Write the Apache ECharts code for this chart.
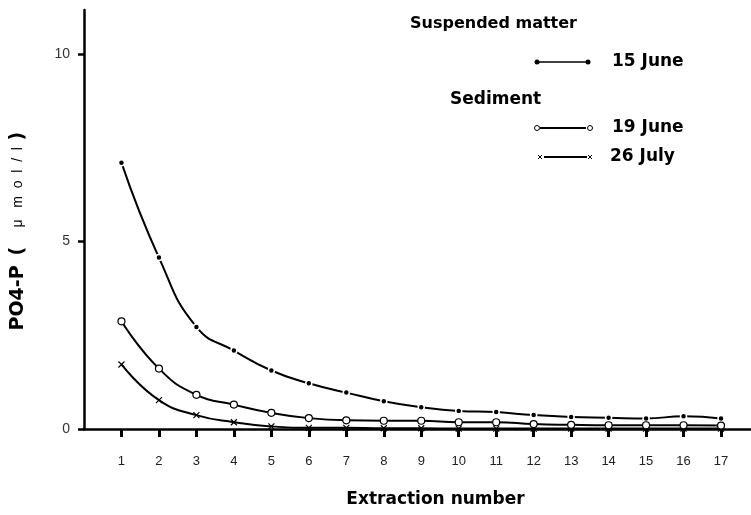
<!DOCTYPE html>
<html><head><meta charset="utf-8">
<script src="https://cdn.jsdelivr.net/npm/echarts@6/dist/echarts.min.js"></script>
<style>html,body{margin:0;padding:0;background:#fff}#c{width:751px;height:515px}</style>
</head><body><div id="c"></div>
<script>
var extraction = [1,2,3,4,5,6,7,8,9,10,11,12,13,14,15,16,17];
var suspended15June = [7.1, 4.57, 2.72, 2.09, 1.56, 1.22, 0.97, 0.74, 0.58, 0.48, 0.45, 0.37, 0.32, 0.30, 0.28, 0.34, 0.28];
var sediment19June = [2.87, 1.61, 0.91, 0.65, 0.43, 0.29, 0.23, 0.22, 0.22, 0.18, 0.18, 0.13, 0.11, 0.10, 0.10, 0.10, 0.09];
var sediment26July = [1.72, 0.77, 0.37, 0.18, 0.07, 0.03, 0.03, 0.02, 0.02, 0.01, 0.01, 0.01, 0.01, 0.01, 0.01, 0.01, 0.01];
var yTicks = [0, 5, 10];

function pairs(vals){ return extraction.map(function(x,i){ return [x, vals[i]]; }); }
var FONT = '"Liberation Sans", Arial, Helvetica, sans-serif';
var BFONT = '"DejaVu Sans", Verdana, sans-serif';
var chart = echarts.init(document.getElementById('c'), null, {renderer:'canvas'});
var lineStyle = {color:'#000', width:2};
var crossPath = 'path://M0,0L10,10M10,0L0,10';

chart.setOption({
  animation:false,
  backgroundColor:'#fff',
  grid:{left:84, right:0, top:10, bottom:86, containLabel:false, outerBoundsMode:'none'},
  xAxis:{
    type:'value', min:0, max:17.8, interval:1,
    axisLine:{show:true, lineStyle:{color:'#000', width:2.5}},
    axisTick:{show:true, inside:false, length:8, lineStyle:{color:'#000', width:3}},
    splitLine:{show:false},
    axisLabel:{show:true, margin:26, fontFamily:FONT, fontSize:13, color:'#222',
      showMaxLabel:false, showMinLabel:false,
      formatter:function(v){ return (v>=1 && v<=17) ? String(v) : ''; }},
    name:'Extraction number', nameLocation:'middle', nameGap:62,
    nameTextStyle:{fontFamily:BFONT, fontWeight:'bold', fontSize:17, color:'#000', padding:[0,0,0,36]}
  },
  yAxis:{
    type:'value', min:0, max:11.17,
    axisLine:{show:true, lineStyle:{color:'#000', width:2.5}},
    axisTick:{show:true, inside:false, length:6, lineStyle:{color:'#000', width:2.5},
      customValues:yTicks},
    axisLabel:{margin:14, fontFamily:FONT, fontSize:14, color:'#333', customValues:yTicks,
      formatter:function(v){ return yTicks.indexOf(v)>=0 ? String(v) : ''; }},
    splitLine:{show:false},
    name:'{b|PO4-P}{p|(}{l|μ   m  o  l  /  l}{q|)}', nameLocation:'middle', nameGap:56, nameRotate:90,
    nameTextStyle:{rich:{
      b:{fontFamily:BFONT, fontWeight:'bold', fontSize:19, color:'#000', width:75, align:'left'},
      p:{fontFamily:BFONT, fontWeight:'bold', fontSize:19, color:'#000', width:28, align:'left'},
      l:{fontFamily:FONT, fontSize:14, color:'#000', width:87, align:'left'},
      q:{fontFamily:BFONT, fontWeight:'bold', fontSize:19, color:'#000', width:32, align:'left'}
    }}
  },
  series:[
    {name:'15 June', type:'line', smooth:0.5, data:pairs(suspended15June),
     symbol:'circle', symbolSize:6, lineStyle:lineStyle,
     itemStyle:{color:'#000', borderColor:'#fff', borderWidth:1.5}, z:3},
    {name:'19 June', type:'line', smooth:0.5, data:pairs(sediment19June),
     symbol:'circle', symbolSize:7, lineStyle:lineStyle,
     itemStyle:{color:'#fff', borderColor:'#000', borderWidth:1.2}, z:3},
    {name:'26 July', type:'line', smooth:0.5, data:pairs(sediment26July),
     symbol:crossPath, symbolSize:6, lineStyle:lineStyle,
     itemStyle:{color:'#000', borderColor:'#000', borderWidth:1.2}, z:2}
  ],
  graphic:[
    {type:'text', left:410, top:16, style:{text:'Suspended matter', font:'bold 16px '+BFONT, fill:'#000'}},
    {type:'line', shape:{x1:537, y1:62, x2:588, y2:62}, style:{stroke:'#000', lineWidth:1.5}},
    {type:'circle', shape:{cx:537, cy:62, r:2.5}, style:{fill:'#000'}},
    {type:'circle', shape:{cx:588, cy:62, r:2.5}, style:{fill:'#000'}},
    {type:'text', left:612, top:53, style:{text:'15 June', font:'bold 17px '+BFONT, fill:'#000'}},
    {type:'text', left:450, top:91, style:{text:'Sediment', font:'bold 17px '+BFONT, fill:'#000'}},
    {type:'line', shape:{x1:540, y1:128, x2:586, y2:128}, style:{stroke:'#000', lineWidth:2}},
    {type:'circle', shape:{cx:537, cy:128, r:2.5}, style:{fill:'#fff', stroke:'#000', lineWidth:1}},
    {type:'circle', shape:{cx:590, cy:128, r:2.5}, style:{fill:'#fff', stroke:'#000', lineWidth:1}},
    {type:'text', left:612, top:119, style:{text:'19 June', font:'bold 17px '+BFONT, fill:'#000'}},
    {type:'line', shape:{x1:544, y1:157, x2:587, y2:157}, style:{stroke:'#000', lineWidth:2}},
    {type:'polyline', shape:{points:[[538,155],[542,159]]}, style:{stroke:'#000', lineWidth:1}},
    {type:'polyline', shape:{points:[[538,159],[542,155]]}, style:{stroke:'#000', lineWidth:1}},
    {type:'polyline', shape:{points:[[588,155],[592,159]]}, style:{stroke:'#000', lineWidth:1}},
    {type:'polyline', shape:{points:[[588,159],[592,155]]}, style:{stroke:'#000', lineWidth:1}},
    {type:'text', left:610, top:148, style:{text:'26 July', font:'bold 17px '+BFONT, fill:'#000'}}
  ]
});
</script></body></html>
